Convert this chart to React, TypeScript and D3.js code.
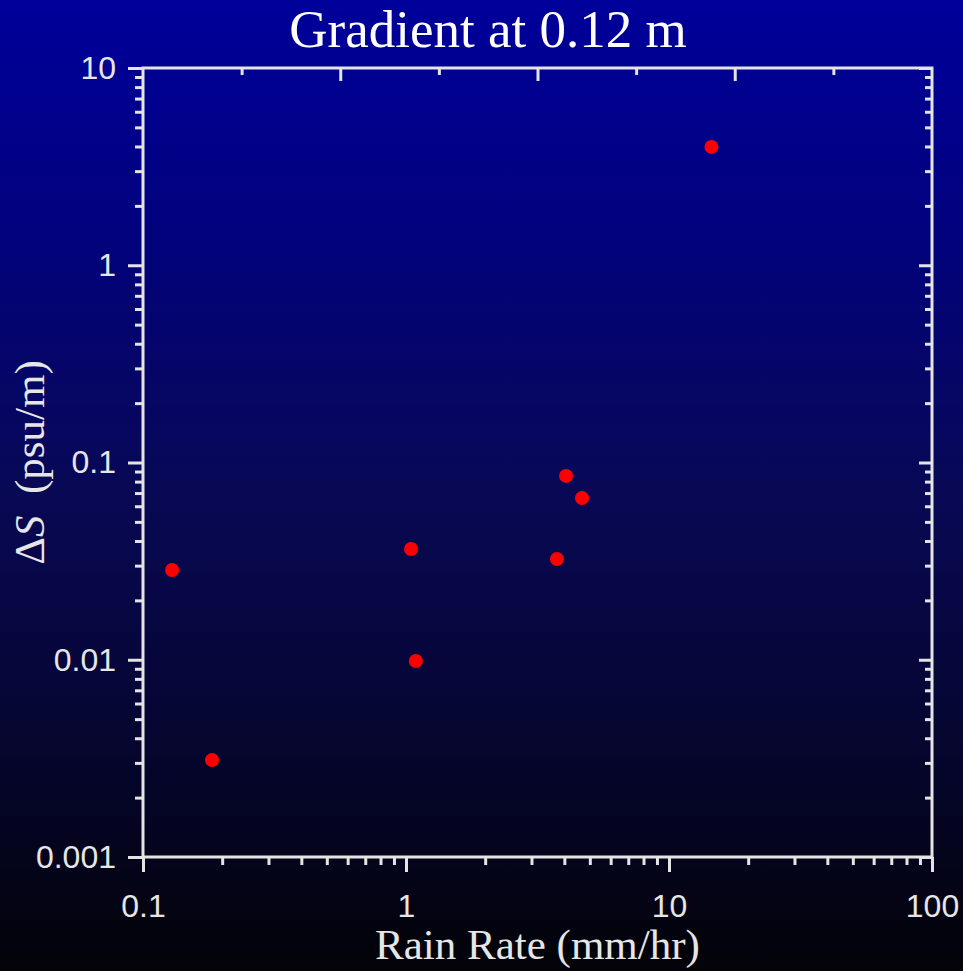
import React, { useEffect, useRef } from "react";
import * as d3 from "d3";

// rain rate (mm/hr) and salinity gradient (psu/m)
const rainRate = [0.129, 0.183, 1.045, 1.09, 3.75, 4.06, 4.67, 14.5];
const deltaS = [0.0285, 0.0031, 0.0364, 0.00986, 0.0324, 0.0855, 0.066, 3.98];

const xMajor = [0.1, 1, 10, 100];
const yMajor = [0.001, 0.01, 0.1, 1, 10];
const minorSteps = [2, 3, 4, 5, 6, 7, 8, 9];
// the top axis carries plain linear ticks, not log ones
const topMajor = [0.25, 0.5, 0.75];
const topMinor = [0.125, 0.375, 0.625, 0.875];

const width = 963;
const height = 971;
const margin = { top: 68, right: 31, bottom: 114, left: 143 };

const minorOf = (majors) =>
  majors.slice(0, -1).flatMap((m) => minorSteps.map((s) => m * s));

const fmt = (d) => (d >= 1 ? d3.format("d")(d) : String(+d.toPrecision(1)));

const App = () => {
  const ref = useRef(null);

  useEffect(() => {
    const svg = d3.select(ref.current);
    svg.selectAll("*").remove();

    const iw = width - margin.left - margin.right;
    const ih = height - margin.top - margin.bottom;

    const x = d3.scaleLog().domain([0.1, 100]).range([0, iw]);
    const y = d3.scaleLog().domain([0.001, 10]).range([ih, 0]);
    const xt = d3.scaleLinear().domain([0, 1]).range([0, iw]);

    const defs = svg.append("defs");
    const grad = defs
      .append("linearGradient")
      .attr("id", "bg")
      .attr("x1", 0)
      .attr("y1", 0)
      .attr("x2", 0)
      .attr("y2", 1);
    grad.append("stop").attr("offset", "0").attr("stop-color", "#00009b");
    grad.append("stop").attr("offset", "0.25").attr("stop-color", "#02027c");
    grad.append("stop").attr("offset", "0.5").attr("stop-color", "#080856");
    grad.append("stop").attr("offset", "0.8").attr("stop-color", "#05052a");
    grad.append("stop").attr("offset", "1").attr("stop-color", "#030308");

    svg.append("rect").attr("width", width).attr("height", height).attr("fill", "url(#bg)");

    const g = svg
      .append("g")
      .attr("transform", `translate(${margin.left},${margin.top})`);

    const axisColor = "#e4e4e4";
    const style = (sel) => {
      sel.selectAll(".domain").remove();
      sel.selectAll("line").attr("stroke", axisColor).attr("stroke-width", 3);
      sel
        .selectAll("text")
        .attr("fill", "#e6e6e6")
        .attr("font-family", "'Liberation Sans', Arial, sans-serif")
        .attr("font-size", 32);
    };

    // left: outward log ticks
    g.append("g")
      .call(d3.axisLeft(y).tickValues(yMajor).tickSize(15).tickPadding(12).tickFormat(fmt))
      .call(style);
    g.append("g")
      .call(d3.axisLeft(y).tickValues(minorOf(yMajor)).tickSize(8).tickFormat(() => ""))
      .call(style);

    // bottom: outward log ticks
    g.append("g")
      .attr("transform", `translate(0,${ih})`)
      .call(d3.axisBottom(x).tickValues(xMajor).tickSize(15).tickPadding(22).tickFormat(fmt))
      .call(style);
    g.append("g")
      .attr("transform", `translate(0,${ih})`)
      .call(d3.axisBottom(x).tickValues(minorOf(xMajor)).tickSize(8).tickFormat(() => ""))
      .call(style);

    // right: inward log ticks
    g.append("g")
      .attr("transform", `translate(${iw},0)`)
      .call(d3.axisRight(y).tickValues(yMajor).tickSize(-13).tickFormat(() => ""))
      .call(style);
    g.append("g")
      .attr("transform", `translate(${iw},0)`)
      .call(d3.axisRight(y).tickValues(minorOf(yMajor)).tickSize(-7).tickFormat(() => ""))
      .call(style);

    // top: inward linear ticks
    g.append("g")
      .call(d3.axisTop(xt).tickValues(topMajor).tickSize(-13).tickFormat(() => ""))
      .call(style);
    g.append("g")
      .call(d3.axisTop(xt).tickValues(topMinor).tickSize(-7).tickFormat(() => ""))
      .call(style);

    g.append("rect")
      .attr("width", iw)
      .attr("height", ih)
      .attr("fill", "none")
      .attr("stroke", axisColor)
      .attr("stroke-width", 3);

    g.selectAll("circle.pt")
      .data(rainRate.map((r, i) => [r, deltaS[i]]))
      .enter()
      .append("circle")
      .attr("class", "pt")
      .attr("cx", (d) => x(d[0]))
      .attr("cy", (d) => y(d[1]))
      .attr("r", 7)
      .attr("fill", "#ff0000");

    const serif = "'Liberation Serif', 'Times New Roman', serif";

    svg.append("text")
      .attr("x", 488)
      .attr("y", 47)
      .attr("text-anchor", "middle")
      .attr("font-family", serif)
      .attr("font-size", 53)
      .attr("fill", "#ffffff")
      .text("Gradient at 0.12 m");

    svg.append("text")
      .attr("x", margin.left + iw / 2)
      .attr("y", 959)
      .attr("text-anchor", "middle")
      .attr("font-family", serif)
      .attr("font-size", 43)
      .attr("fill", "#e6e6e6")
      .text("Rain Rate (mm/hr)");

    const yl = svg.append("text")
      .attr("transform", `translate(44,${margin.top + ih / 2}) rotate(-90)`)
      .attr("text-anchor", "middle")
      .attr("font-family", serif)
      .attr("font-size", 43)
      .attr("fill", "#e6e6e6")
      .attr("xml:space", "preserve");
    yl.append("tspan").text("\u0394");
    yl.append("tspan").attr("font-style", "italic").text("S");
    yl.append("tspan").text("\u00a0 (psu/m)");
  }, []);

  return (
    <div style={{ position: "absolute", left: 0, top: 0 }}>
      <svg ref={ref} width={width} height={height} style={{ display: "block" }} />
    </div>
  );
};

export default App;
